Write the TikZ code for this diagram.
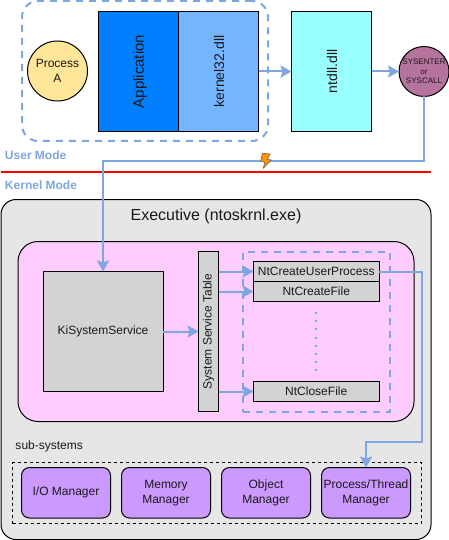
\documentclass[tikz,border=0pt]{standalone}
\usepackage{fontspec}
\usepackage{graphicx}
\setmainfont{Liberation Sans}
\usetikzlibrary{arrows.meta,positioning,calc}
\definecolor{flow}{HTML}{7EA6E0}
\definecolor{appblue}{HTML}{007FFF}
\definecolor{kernblue}{HTML}{74B5FF}
\definecolor{ntcyan}{HTML}{99FFFF}
\definecolor{procyellow}{HTML}{FFE699}
\definecolor{sysmauve}{HTML}{B5739D}
\definecolor{execgrey}{HTML}{E6E6E6}
\definecolor{boxgrey}{HTML}{D3D3D3}
\definecolor{pinkbg}{HTML}{FFCCFF}
\definecolor{mgr}{HTML}{CC99FF}
\definecolor{modered}{HTML}{FF0000}
\newcommand{\fs}[1]{\fontsize{#1}{#1}\selectfont}
\tikzset{
  every node/.style={inner sep=0pt,outer sep=0pt,align=center,text=black!90},
  box/.style={draw=black,line width=1pt,rectangle},
  rbox/.style={box,rounded corners=#1},
  flowline/.style={draw=flow,line width=2pt},
  flowarrow/.style={flowline,-{Stealth[length=11pt,width=12pt,inset=2pt]}},
  flowdash/.style={draw=flow,line width=2pt,dash pattern=on 7pt off 6pt},
  mgrbox/.style={rbox=8pt,fill=mgr,minimum width=89pt,minimum height=50.5pt,font=\fs{12}},
  ntbox/.style={box,fill=boxgrey,minimum width=125.5pt,minimum height=20pt,font=\fs{12}},
  modelabel/.style={text=flow,font=\bfseries\fs{12},anchor=west},
}
\begin{document}
\begin{tikzpicture}[x=1pt,y=-1pt]
\useasboundingbox (0,0) rectangle (449,540);
% user mode
\node[flowdash,rectangle,rounded corners=16pt,minimum width=246pt,minimum height=140pt] (usr) at (145,71) {};
\node[box,circle,fill=procyellow,minimum size=60pt,font=\fs{12}] (proc) at (57.5,71) {Process\\[3pt]A};
\node[box,fill=appblue,minimum width=80pt,minimum height=120pt] (app) at (138.5,71.5) {\hspace*{3pt}\rotatebox{90}{\fs{15}Application}};
\node[box,fill=kernblue,minimum width=80pt,minimum height=120pt] (k32) at (218.5,71.5) {\hspace*{1pt}\rotatebox{90}{\fs{14}kernel32.dll}};
\node[box,fill=ntcyan,minimum width=80pt,minimum height=120pt] (ntd) at (331.5,71.5) {\hspace*{1pt}\rotatebox{90}{\fs{14}ntdll.dll}};
\node[box,circle,fill=sysmauve,minimum size=50pt,font=\fs{8}] (sys) at (424,71.5) {SYSENTER\\[1.5pt]or\\[1.5pt]SYSCALL};
\node[modelabel] (um) at (5,155.5) {User Mode};
\node[modelabel] (km) at (5,185.5) {Kernel Mode};
\coordinate (rl) at (1,171.5);
\coordinate (rr) at (431,171.5);
\draw[modered,line width=2pt] (rl) -- (rr);
% executive
\node[rbox=15pt,fill=execgrey,minimum width=430pt,minimum height=340pt] (exec) at (216,369.5) {};
\node[font=\fs{16},anchor=center] (exect) at (216,216) {Executive (ntoskrnl.exe)};
\node[rbox=20pt,fill=pinkbg,minimum width=396pt,minimum height=180pt] (pink) at (216,331.5) {};
\node[box,fill=boxgrey,minimum width=120pt,minimum height=120pt,font=\fs{12}] (ki) at (103,331.5) {KiSystemService};
\node[box,fill=boxgrey,minimum width=20pt,minimum height=160pt] (sst) at (208.5,331.5) {\rotatebox{90}{\fs{12}System Service Table}};
\node[flowdash,rectangle,minimum width=147pt,minimum height=160pt] (ntgrp) at (316.5,331.5) {};
\node[ntbox] (nt1) at (316.25,271.5) {NtCreateUserProcess};
\node[ntbox] (nt2) at (316.25,291.5) {NtCreateFile};
\node[ntbox] (nt3) at (316.25,391.5) {NtCloseFile};
\coordinate (da) at (316,312);
\coordinate (db) at (316,373);
\draw[flow,line width=2pt,dash pattern=on 2pt off 6.2pt] (da) -- (db);
% subsystems
\node[font=\fs{12},anchor=west] (subt) at (15.5,446) {sub-systems};
\node[draw=black,line width=0.8pt,dashed,rectangle,minimum width=408.5pt,minimum height=61pt] (subg) at (216.75,493) {};
\node[mgrbox] (m1) at (66,492.75) {I/O Manager};
\node[mgrbox] (m2) at (166,492.75) {Memory\\[3pt]Manager};
\node[mgrbox] (m3) at (266,492.75) {Object\\[3pt]Manager};
\node[mgrbox] (m4) at (366,492.75) {Process/Thread\\[3pt]Manager};
% connectors
\draw[flowarrow] (k32.east) -- (ntd.west);
\draw[flowarrow] (ntd.east) -- (sys.west);
\coordinate (s1) at (424,161);
\coordinate (s2) at (103,161);
\draw[flowarrow] (sys.south) -- (s1) -- (s2) -- (ki.north);
\draw[flowarrow] (ki.east) -- (sst.west);
\draw[flowarrow] (sst.east |- nt1.west) -- (nt1.west);
\draw[flowarrow] (sst.east |- nt2.west) -- (nt2.west);
\draw[flowarrow] (sst.east |- nt3.west) -- (nt3.west);
\coordinate (p1) at (421.5,271.5);
\coordinate (p2) at (421.5,441.5);
\coordinate (p3) at (366,441.5);
\draw[flowarrow] (nt1.east) -- (p1) -- (p2) -- (p3) -- (m4.north);
% lightning bolt
\draw[fill=orange!85!yellow,draw=black!60,line width=0.6pt,line join=round]
  (262.3,153.3) -- (270.3,154) -- (267.3,159.3) -- (271.3,160) -- (263.3,168.3) -- (264.7,162.3) -- (260.7,161.3) -- cycle;
\end{tikzpicture}
\end{document}
